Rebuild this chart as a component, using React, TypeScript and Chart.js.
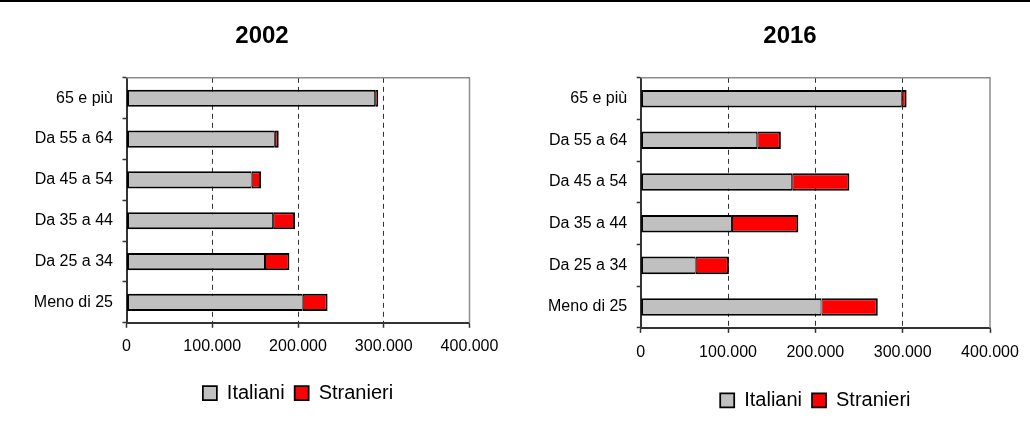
import React, { useEffect, useRef } from 'react';
import { Chart, registerables } from 'chart.js';

Chart.register(...registerables);

const categories = ['65 e più', 'Da 55 a 64', 'Da 45 a 54', 'Da 35 a 44', 'Da 25 a 34', 'Meno di 25'];
const italiani2002 = [290000, 173000, 146000, 171000, 161500, 205500];
const stranieri2002 = [3500, 4500, 11000, 25500, 28500, 29000];
const italiani2016 = [299000, 133500, 173500, 104500, 63000, 207000];
const stranieri2016 = [5500, 27000, 65500, 76000, 38000, 64500];
const seriesNames = ['Italiani', 'Stranieri'];
const chartTitles = ['2002', '2016'];
const xMin = 0;
const xMax = 400000;
const xStep = 100000;

const FONT = "'Liberation Sans', Arial, sans-serif";
Chart.defaults.font.family = FONT;
Chart.defaults.color = '#000';

const fmt = (v: number) => String(v).replace(/\B(?=(\d{3})+(?!\d))/g, '.');

const framePlugin = {
  id: 'frame',
  beforeDatasetsDraw(chart: any) {
    const { ctx, chartArea } = chart;
    const { left, right, top, bottom } = chartArea;
    ctx.save();
    ctx.strokeStyle = '#8c8c8c';
    ctx.lineWidth = 1.5;
    ctx.beginPath();
    ctx.moveTo(left, top);
    ctx.lineTo(right, top);
    ctx.lineTo(right, bottom);
    ctx.stroke();
    ctx.restore();
  },
};

type Layout = {
  yWidth: number;
  padLeft: number;
  xPadRight: number;
  padBottom: number;
  xTickPad: number;
  legendTitlePad: number;
};

function makeConfig(title: string, it: number[], st: number[], L: Layout): any {
  return {
    type: 'bar',
    data: {
      labels: categories,
      datasets: [
        {
          label: seriesNames[0],
          data: it,
          backgroundColor: '#c0c0c0',
          borderColor: '#000',
          borderWidth: { top: 2, bottom: 2, left: 2, right: 1 },
          borderSkipped: false,
          barPercentage: 0.42,
          categoryPercentage: 1,
        },
        {
          label: seriesNames[1],
          data: st,
          backgroundColor: '#ff0000',
          borderColor: '#000',
          borderWidth: { top: 2, bottom: 2, left: 1, right: 2 },
          borderSkipped: false,
          barPercentage: 0.42,
          categoryPercentage: 1,
        },
      ],
    },
    options: {
      indexAxis: 'y',
      animation: false,
      responsive: false,
      devicePixelRatio: 1,
      layout: { padding: { left: L.padLeft, right: 0, top: 0, bottom: L.padBottom } },
      scales: {
        x: {
          stacked: true,
          min: xMin,
          max: xMax,
          afterFit: (s: any) => {
            s.paddingRight = L.xPadRight;
            s.paddingLeft = 0;
          },
          ticks: {
            stepSize: xStep,
            color: '#000',
            font: { size: 16 },
            padding: L.xTickPad,
            maxRotation: 0,
            autoSkip: false,
            callback: (v: any) => fmt(Number(v)),
          },
          grid: {
            color: (ctx: any) =>
              ctx.tick && (ctx.tick.value === xMin || ctx.tick.value === xMax) ? 'rgba(0,0,0,0)' : '#333',
            lineWidth: 1,
            tickLength: 5,
            tickColor: '#333',
            tickWidth: 1.5,
          },
          border: { color: '#333', width: 2, dash: [5, 4] },
        },
        y: {
          stacked: true,
          afterFit: (s: any) => {
            s.width = L.yWidth;
          },
          ticks: { color: '#000', font: { size: 16 }, padding: 9.5 },
          grid: {
            offset: true,
            drawOnChartArea: false,
            drawTicks: true,
            tickLength: 4,
            tickColor: '#333',
            tickWidth: 1.5,
          },
          border: { color: '#333', width: 2 },
        },
      },
      plugins: {
        title: {
          display: true,
          text: title,
          color: '#000',
          font: { size: 24, weight: 'bold' },
          padding: { top: 22, bottom: 27 },
        },
        legend: {
          position: 'bottom',
          fullSize: false,
          title: { display: true, text: '', font: { size: 5 }, padding: L.legendTitlePad },
          labels: {
            color: '#000',
            font: { size: 20 },
            boxWidth: 14,
            boxHeight: 14,
            padding: 10,
          },
        },
        tooltip: { enabled: false },
      },
    },
    plugins: [framePlugin],
  };
}

function ChartCanvas({ config, left, width }: { config: any; left: number; width: number }) {
  const ref = useRef<HTMLCanvasElement>(null);
  useEffect(() => {
    const chart = new Chart(ref.current as HTMLCanvasElement, config);
    return () => chart.destroy();
  }, []);
  return (
    <canvas
      ref={ref}
      width={width}
      height={432}
      style={{ position: 'absolute', left, top: 0, width, height: 432 }}
    />
  );
}

export default function App() {
  const c1 = makeConfig(chartTitles[0], italiani2002, stranieri2002, {
    yWidth: 102.5,
    padLeft: 24,
    xPadRight: 30.5,
    padBottom: 19,
    xTickPad: 9,
    legendTitlePad: 1,
  });
  const c2 = makeConfig(chartTitles[1], italiani2016, stranieri2016, {
    yWidth: 100.7,
    padLeft: 0,
    xPadRight: 50,
    padBottom: 11.6,
    xTickPad: 10.5,
    legendTitlePad: 0.65,
  });
  return (
    <div
      style={{
        position: 'absolute',
        left: 0,
        top: 0,
        width: 1030,
        height: 432,
        overflow: 'hidden',
        background: '#fff',
      }}
    >
      <ChartCanvas config={c1} left={0} width={500} />
      <ChartCanvas config={c2} left={540} width={500} />
      <div style={{ position: 'absolute', left: 0, top: 0, width: 1030, height: 2, background: '#000' }} />
    </div>
  );
}
